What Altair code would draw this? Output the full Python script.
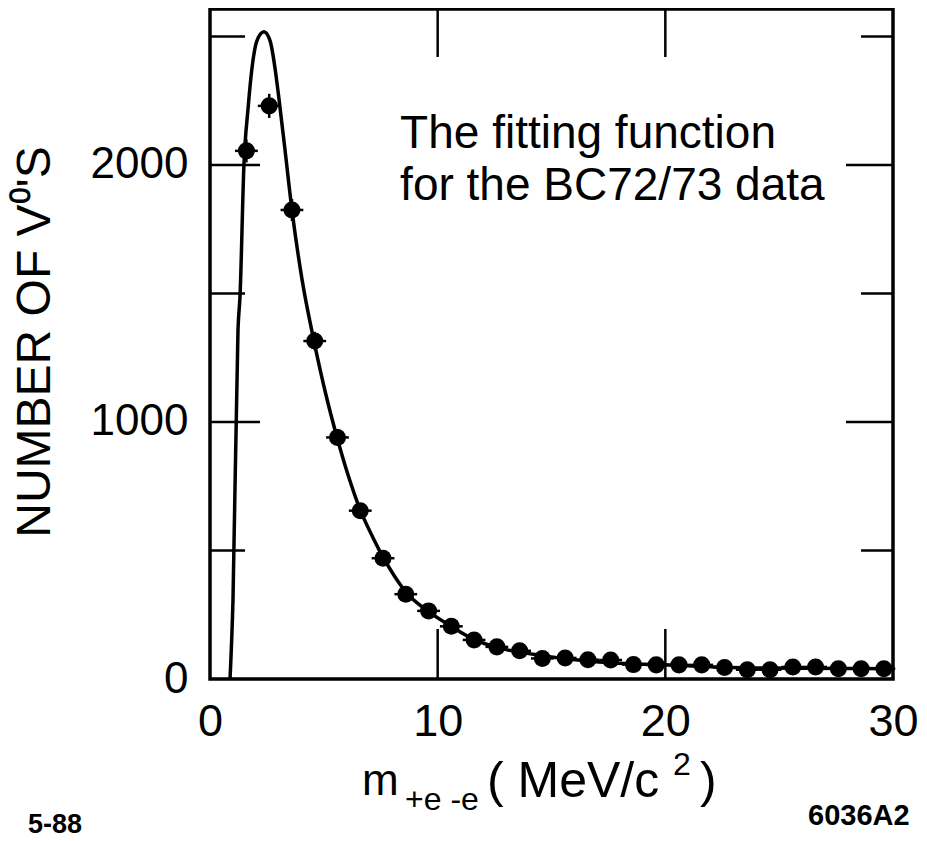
import altair as alt
import pandas as pd

# ---- data ----
bin_x = [1.6, 2.6, 3.6, 4.6, 5.6, 6.6, 7.6, 8.6, 9.6, 10.6, 11.6, 12.6, 13.6, 14.6,
         15.6, 16.6, 17.6, 18.6, 19.6, 20.6, 21.6, 22.6, 23.6, 24.6, 25.6, 26.6,
         27.6, 28.6, 29.6]
counts = [2055, 2230, 1825, 1315, 940, 655, 470, 330, 265, 205, 152, 125, 110, 80,
          82, 75, 74, 56, 55, 55, 55, 45, 36, 36, 47, 47, 40, 40, 40]
count_err = [45, 47, 43, 36, 31, 26, 22, 18, 16, 14, 12, 11, 11, 9,
             9, 9, 9, 8, 8, 8, 8, 7, 6, 6, 7, 7, 6, 6, 6]
half_width = 0.5

curve_x = [0.88, 1.01, 1.23, 1.32, 1.49, 1.67, 1.84, 2.06, 2.37, 2.64, 2.86, 3.03,
           3.29, 3.6, 4.04, 4.57, 5.09, 5.58, 6.1, 6.63, 7.16, 7.64, 8.12, 8.6,
           9.62, 10.63, 11.64, 12.69, 14.67, 17.08, 19.94, 23.67, 30.0]
curve_y = [0, 308, 1361, 1493, 2000, 2218, 2374, 2483, 2518, 2483, 2374, 2257,
           2062, 1825, 1556, 1314, 1107, 940, 784, 651, 550, 468, 398, 339,
           261, 203, 152, 121, 90, 66, 55, 43, 40]

x_tick_values = [0, 10, 20, 30]
y_tick_values = [0, 1000, 2000]
x_inner_major = [10, 20]
y_inner_major = [1000, 2000]
y_inner_minor = [500, 1500, 2500]

annotation_lines = ["The fitting function", "for the BC72/73 data"]
annotation_x = [8.35, 8.35]
annotation_y = [2066, 1864]

W, H = 683, 670
FONT = "Liberation Sans, Arial, Helvetica, sans-serif"
NARROW = "Liberation Sans Narrow, Liberation Sans, Arial, sans-serif"

xs = alt.Scale(domain=[0, 30], nice=False, zero=False)
ys = alt.Scale(domain=[0, 2607], nice=False)
xaxis = alt.Axis(values=x_tick_values, labelFontSize=45, labelFont=NARROW, format="d",
                 labelColor="black", labelPadding=20, ticks=False,
                 domain=False, grid=False, title=None, labelFlush=False)
yaxis = alt.Axis(values=y_tick_values, labelFontSize=44, labelFont=FONT, format="d",
                 labelColor="black", labelPadding=22, ticks=False,
                 domain=False, grid=False, title=None, labelFlush=False)

def X(f):
    return alt.X(f, scale=xs, axis=xaxis)

def Y(f):
    return alt.Y(f, scale=ys, axis=yaxis)

pts = pd.DataFrame({"x": bin_x, "y": counts,
                    "xlo": [v - half_width for v in bin_x],
                    "xhi": [v + half_width for v in bin_x],
                    "ylo": [c - e for c, e in zip(counts, count_err)],
                    "yhi": [c + e for c, e in zip(counts, count_err)]})
curve = pd.DataFrame({"x": curve_x, "y": curve_y})

line = alt.Chart(curve).mark_line(color="black", strokeWidth=3.5, interpolate="monotone").encode(
    x=X("x:Q"), y=Y("y:Q"))

hbar = alt.Chart(pts).mark_rule(color="black", strokeWidth=2.5).encode(
    x=X("xlo:Q"), x2="xhi:Q", y=Y("y:Q"))
vbar = alt.Chart(pts).mark_rule(color="black", strokeWidth=2.5).encode(
    x=X("x:Q"), y=Y("ylo:Q"), y2="yhi:Q")
dots = alt.Chart(pts).mark_circle(color="black", opacity=1, size=290).encode(
    x=X("x:Q"), y=Y("y:Q"))

ymaj = pd.DataFrame({"v": y_inner_major})
ymin = pd.DataFrame({"v": y_inner_minor})
xmaj = pd.DataFrame({"v": x_inner_major})

def yrule(df, x0, x1):
    return alt.Chart(df).mark_rule(color="black", strokeWidth=2.5).encode(
        y=Y("v:Q"), x=alt.value(x0), x2=alt.value(x1))

def xrule(df, y0, y1):
    return alt.Chart(df).mark_rule(color="black", strokeWidth=2.5).encode(
        x=X("v:Q"), y=alt.value(y0), y2=alt.value(y1))

ticks = [yrule(ymaj, 0, 50), yrule(ymin, 0, 35), yrule(ymaj, W, W - 47), yrule(ymin, W, W - 32),
         xrule(xmaj, 0, 48), xrule(xmaj, H, H - 50)]

annot = alt.Chart(pd.DataFrame({"t": annotation_lines, "x": annotation_x, "y": annotation_y})).mark_text(
    align="left", baseline="alphabetic", fontSize=46, font=FONT, color="black").encode(
    x=X("x:Q"), y=Y("y:Q"), text="t:N")

def label(txt, x, y, size, align="left", angle=0, font=FONT, weight="normal"):
    return alt.Chart(pd.DataFrame({"t": [txt]})).mark_text(
        align=align, baseline="alphabetic", fontSize=size, font=font, color="black",
        angle=angle, fontWeight=weight).encode(x=alt.value(x), y=alt.value(y), text="t:N")

ytitle = alt.Chart(pd.DataFrame({"t": ["NUMBER OF V\u2070'S"]})).mark_text(
    align="center", baseline="middle", fontSize=48, font=FONT, color="black", angle=270).encode(
    x=alt.value(-174), y=alt.value(333), text="t:N")

texts = [
    ytitle,
    label("m", 152, 786, 44),
    label("+e -e", 195, 801, 32),
    label("( MeV/c", 277, 788, 50),
    label("2", 463, 766, 32),
    label(")", 490, 788, 50),
    label("5-88", -182, 824, 27, weight="bold"),
    label("6036A2", 598, 816, 29, weight="bold"),
]

chart = alt.layer(line, hbar, vbar, dots, *ticks, annot, *texts).properties(
    width=W, height=H,
    background="white",
    autosize=alt.AutoSizeParams(type="none"),
    padding={"left": 202, "top": 1, "right": 26, "bottom": 162},
).configure_view(stroke="black", strokeWidth=3.5, strokeOpacity=1)

chart.save("out.html", embed_options={"renderer": "svg", "actions": False})
